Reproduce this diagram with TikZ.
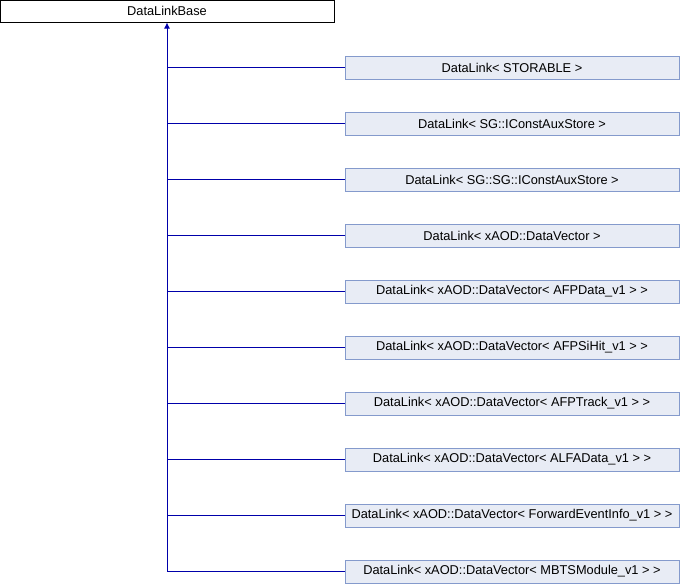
\documentclass[tikz,border=0pt]{standalone}
\usepackage{fontspec}
\setmainfont{Liberation Sans}
\usepackage{xcolor}
\usetikzlibrary{arrows.meta}
\definecolor{linkblue}{RGB}{0,0,170}
\definecolor{boxfill}{RGB}{232,236,245}
\definecolor{boxline}{RGB}{132,154,204}
\tikzset{
  basebox/.style={draw=black, fill=white, line width=1pt, minimum width=334pt, minimum height=22pt, inner sep=0pt, font=\fontsize{12.8}{14}\selectfont},
  childbox/.style={draw=boxline, fill=boxfill, line width=1pt, minimum width=334pt, minimum height=23pt, inner sep=0pt, font=\fontsize{12.8}{14}\selectfont},
  inherit/.style={draw=linkblue, line width=1pt},
}

\begin{document}
\begin{tikzpicture}[x=1pt, y=-1pt]
                \useasboundingbox (0,0) rectangle (680,584);
                \node[basebox] (base) at (167,11) {DataLinkBase};
                \node[childbox] (storable) at (512,67.5) {DataLink< STORABLE >};
                \node[childbox] (auxstore) at (512,123.5) {DataLink< SG::IConstAuxStore >};
                \node[childbox] (sgauxstore) at (512,179.5) {DataLink< SG::SG::IConstAuxStore >};
                \node[childbox] (datavector) at (512,235.5) {DataLink< xAOD::DataVector >};
                \node[childbox] (afpdata) at (512,291.5) {DataLink< xAOD::DataVector< AFPData\_v1 > >};
                \node[childbox] (afpsihit) at (512,347.5) {DataLink< xAOD::DataVector< AFPSiHit\_v1 > >};
                \node[childbox] (afptrack) at (512,403.5) {DataLink< xAOD::DataVector< AFPTrack\_v1 > >};
                \node[childbox] (alfadata) at (512,459.5) {DataLink< xAOD::DataVector< ALFAData\_v1 > >};
                \node[childbox] (fwdevent) at (512,515.5) {DataLink< xAOD::DataVector< ForwardEventInfo\_v1 > >};
                \node[childbox] (mbtsmodule) at (512,571.5) {DataLink< xAOD::DataVector< MBTSModule\_v1 > >};
                \coordinate (trunk) at (base.south |- mbtsmodule.west);
                \draw [inherit, -{Latex[length=6pt, width=6pt]}](trunk) to(base.south);
                \draw [inherit](base.south |- storable.west) to(storable.west);
                \draw [inherit](base.south |- auxstore.west) to(auxstore.west);
                \draw [inherit](base.south |- sgauxstore.west) to(sgauxstore.west);
                \draw [inherit](base.south |- datavector.west) to(datavector.west);
                \draw [inherit](base.south |- afpdata.west) to(afpdata.west);
                \draw [inherit](base.south |- afpsihit.west) to(afpsihit.west);
                \draw [inherit](base.south |- afptrack.west) to(afptrack.west);
                \draw [inherit](base.south |- alfadata.west) to(alfadata.west);
                \draw [inherit](base.south |- fwdevent.west) to(fwdevent.west);
                \draw [inherit](trunk) to(mbtsmodule.west);
            \end{tikzpicture}
\end{document}
